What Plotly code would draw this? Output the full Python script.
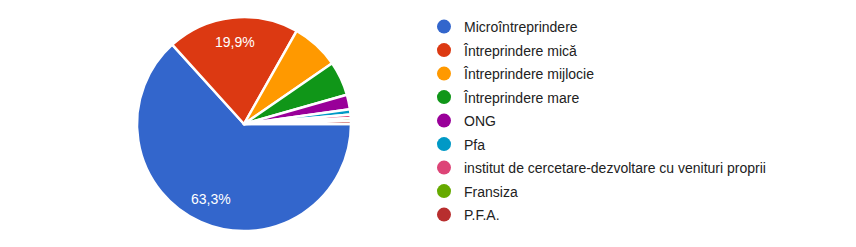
import math
import plotly.graph_objects as go

labels = ["Microîntreprindere", "Întreprindere mică", "Întreprindere mijlocie",
          "Întreprindere mare", "ONG", "Pfa",
          "institut de cercetare-dezvoltare cu venituri proprii", "Fransiza", "P.F.A."]
values = [63.3, 19.9, 7.2, 5.2, 2.2, 0.8, 0.5, 0.4, 0.5]
colors = ["#3366cc", "#dc3912", "#ff9900", "#109618", "#990099",
          "#0099c6", "#dd4477", "#66aa00", "#b82e2e"]

total = sum(values)

W, H = 856, 247
cx, cy, r = 244, 124, 107
FONT = "Arial, 'Liberation Sans', sans-serif"

fig = go.Figure()
fig.add_trace(go.Pie(
    labels=labels, values=values, sort=False, direction="clockwise", rotation=90,
    marker=dict(colors=colors, line=dict(color="white", width=2.5)),
    textinfo="none", showlegend=False, hoverinfo="label+percent",
    domain=dict(x=[(cx - r) / W, (cx + r) / W], y=[(H - cy - r) / H, (H - cy + r) / H]),
))

# slice percentage labels, placed along each slice's mid-angle
cum = 0.0
for v in values:
    frac = v / total
    mid = cum + frac / 2
    cum += frac
    if frac < 0.1:
        continue
    ang = -mid * 2 * math.pi  # clockwise from 3 o'clock
    px = cx + 0.77 * r * math.cos(ang)
    py = cy - 0.77 * r * math.sin(ang)
    fig.add_annotation(
        x=px / W, y=1 - py / H, xref="paper", yref="paper", showarrow=False,
        xanchor="center", yanchor="middle",
        text=f"{frac * 100:.1f}".replace(".", ",") + "%",
        font=dict(family=FONT, size=14, color="white"),
    )

for i, (lab, col) in enumerate(zip(labels, colors)):
    fig.add_trace(go.Scatter(
        x=[None], y=[None], mode="markers", name=lab, legendgroup=f"g{i}",
        marker=dict(symbol="circle", size=14, color=col),
    ))

fig.update_layout(
    width=W, height=H, margin=dict(l=0, r=0, t=0, b=0),
    paper_bgcolor="white", plot_bgcolor="white",
    xaxis=dict(visible=False), yaxis=dict(visible=False),
    legend=dict(x=424 / W, y=1 - 11 / H, xanchor="left", yanchor="top",
                traceorder="grouped", tracegroupgap=2.3, itemwidth=30,
                font=dict(family=FONT, size=14, color="#222222"),
                bgcolor="rgba(0,0,0,0)"),
)

fig.write_html("out.html")
